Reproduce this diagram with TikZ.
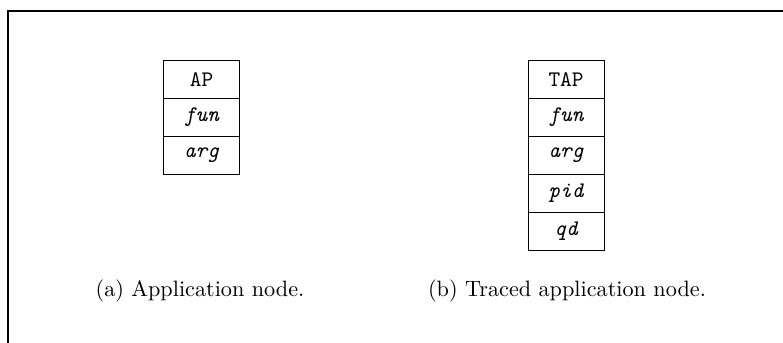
\documentclass[tikz,border=0pt]{standalone}
\begin{document}
\begin{tikzpicture}[x=0.45pt,y=-0.45pt,
  cell/.style={draw,line width=0.45pt,minimum width=34.2pt,minimum height=17.1pt,inner sep=0pt,font=\ttfamily},
  icell/.style={cell,font=\ttfamily\itshape},
  caption/.style={anchor=base,font=\fontsize{10}{12}\selectfont},
  frame/.style={line width=0.9pt}]
\useasboundingbox (0,0) rectangle (783,343);
\coordinate (ftr) at (783,11);
\coordinate (ftl) at (8,11);
\coordinate (fbl) at (8,343);
\draw[frame] (ftr) -- (ftl) -- (fbl);
% (a)
\node[cell] (ap) at (201.5,79.5) {AP};
\node[icell] (afun) at (201.5,117.5) {fun};
\node[icell] (aarg) at (201.5,155.5) {arg};
% (b)
\node[cell] (tap) at (566,79.5) {TAP};
\node[icell] (bfun) at (566,117.5) {fun};
\node[icell] (barg) at (566,155.5) {arg};
\node[icell] (bpid) at (566,193.5) {pid};
\node[icell] (bqd) at (566,231.5) {qd};
\node[caption] (capa) at (200,297) {(a) Application node.};
\node[caption] (capb) at (567,297) {(b) Traced application node.};
\end{tikzpicture}
\end{document}
